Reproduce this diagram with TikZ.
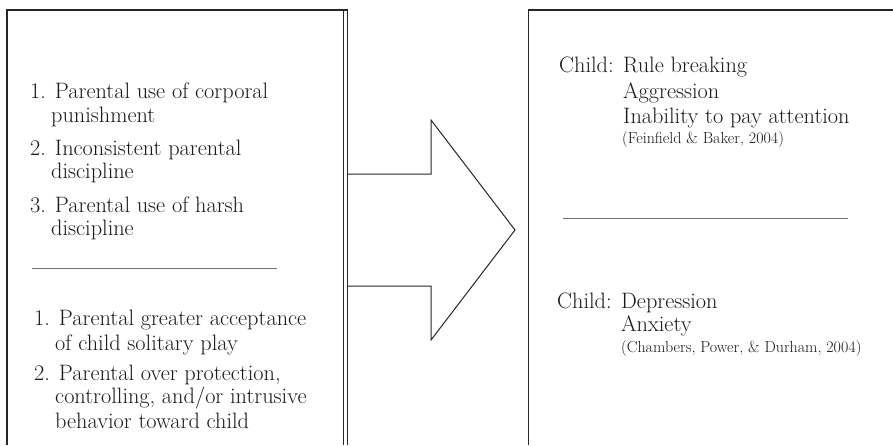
\documentclass[tikz,border=0pt]{standalone}
\begin{document}
\begin{tikzpicture}[x=1pt,y=-1pt,
  frame/.style={line width=1.2pt, draw=black!85},
  thin/.style={line width=0.8pt, draw=black!55},
  txt/.style={anchor=base west, inner sep=0pt, font=\fontsize{22.3}{26}\selectfont, text=black!90},
  cite/.style={anchor=base west, inner sep=0pt, font=\fontsize{16}{19}\selectfont, text=black!90}]
\useasboundingbox (0,0) rectangle (893,445);
% left box
\draw[frame] (7,445) -- (7,10) -- (347.5,10);
\draw[frame] (343.5,10) -- (343.5,445);
\draw[frame] (347.5,10) -- (347.5,445);
% arrow
\draw[frame, line width=1pt] (348,174) -- (431,174) -- (431,120) -- (515,230) -- (431,340) -- (431,286) -- (348,286);
% right box
\draw[frame] (528.5,445) -- (528.5,10) -- (893,10);
% left texts
\node[txt] (l1) at (30,98) {1. Parental use of corporal};
\node[txt] (l2) at (51,122) {punishment};
\node[txt] (l3) at (30,155) {2. Inconsistent parental};
\node[txt] (l4) at (51,178) {discipline};
\node[txt] (l5) at (30,212) {3. Parental use of harsh};
\node[txt] (l6) at (51,235) {discipline};
\coordinate (r1a) at (32,268);
\coordinate (r1b) at (277,268);
\draw[thin] (r1a) -- (r1b);
\node[txt] (m1) at (34,325) {1. Parental greater acceptance};
\node[txt] (m2) at (55,350) {of child solitary play};
\node[txt] (m3) at (34,380) {2. Parental over protection,};
\node[txt] (m4) at (55,403) {controlling, and/or intrusive};
\node[txt] (m5) at (55,428) {behavior toward child};
% right texts
\node[txt] (c1) at (559,72) {Child:};
\node[txt] (c2) at (623,72) {Rule breaking};
\node[txt] (c3) at (623,98) {Aggression};
\node[txt] (c4) at (623,123) {Inability to pay attention};
\node[cite] (c5) at (622,143) {(Feinfield \& Baker, 2004)};
\coordinate (r2a) at (563,218);
\coordinate (r2b) at (848,218);
\draw[thin] (r2a) -- (r2b);
\node[txt] (d1) at (557,308) {Child:};
\node[txt] (d2) at (621,308) {Depression};
\node[txt] (d3) at (621,331) {Anxiety};
\node[cite] (d4) at (621,352) {(Chambers, Power, \& Durham, 2004)};
\end{tikzpicture}
\end{document}
